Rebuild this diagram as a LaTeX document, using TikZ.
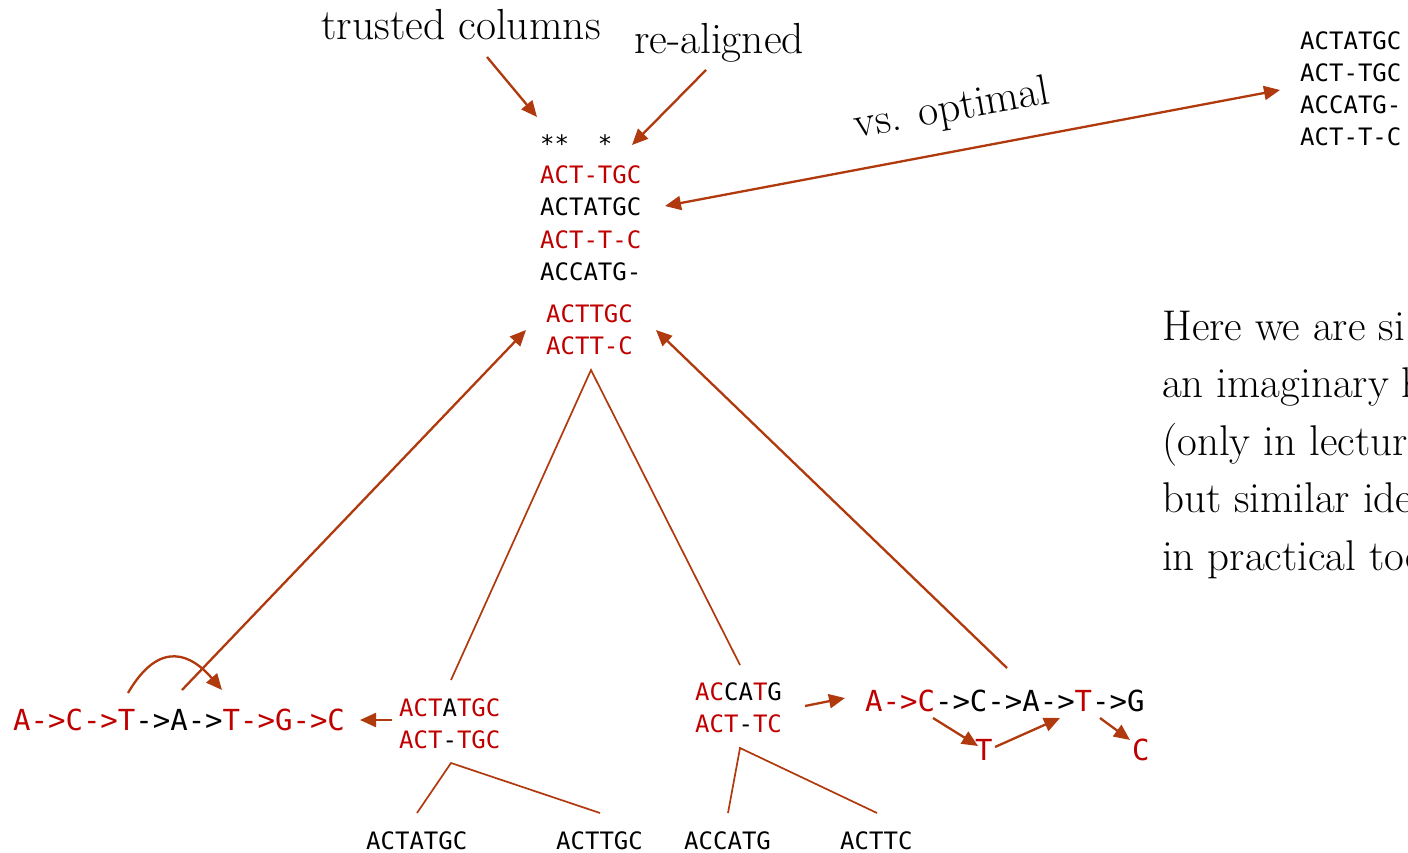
\documentclass[tikz,border=0pt]{standalone}
\usepackage{fontspec}
\newfontfamily\monofont{DejaVu Sans Mono}
\usetikzlibrary{arrows.meta}
\definecolor{arr}{RGB}{176,58,14}
\definecolor{seqred}{RGB}{192,0,0}
\newcommand{\rd}[1]{\textcolor{seqred}{#1}}
\tikzset{
  seq/.style={font=\monofont\fontsize{24}{32}\selectfont, anchor=base west, inner sep=0pt, text=black},
  bigseq/.style={font=\monofont\fontsize{29}{35}\selectfont, anchor=base west, inner sep=0pt, text=black},
  lbl/.style={font=\fontsize{43.5}{50}\selectfont, inner sep=0pt, text=black},
  para/.style={font=\fontsize{43}{50}\selectfont, inner sep=0pt, anchor=base west, text=black},
  arrowline/.style={draw=arr, line width=2.3pt, -{Triangle[length=16pt,width=14pt]}},
  dblarrow/.style={draw=arr, line width=2.3pt, {Triangle[length=16pt,width=14pt]}-{Triangle[length=16pt,width=14pt]}},
  treeline/.style={draw=arr, line width=1.7pt},
}
\begin{document}
\begin{tikzpicture}[x=1pt,y=-1pt]
\useasboundingbox (0,0) rectangle (1408,853);
\clip (0,0) rectangle (1408,853);
\fill[white] (0,0) rectangle (1408,853);

% labels
\node[lbl, anchor=base] (trusted) at (461,40) {trusted columns};
\node[lbl, anchor=base] (realigned) at (719,54) {re-aligned};
\node[lbl, rotate=10] (vsopt) at (952,110) {vs. optimal};

% main alignment
\node[seq] (stars) at (540,153) {**\ \ *};
\node[seq, text=seqred] (r1) at (540,184) {ACT-TGC};
\node[seq] (r2) at (540,216) {ACTATGC};
\node[seq, text=seqred] (r3) at (540,248) {ACT-T-C};
\node[seq] (r4) at (540,280) {ACCATG-};
\node[seq, text=seqred] (p1) at (546,322) {ACTTGC};
\node[seq, text=seqred] (p2) at (546,354) {ACTT-C};

% optimal alignment
\node[seq] (o1) at (1300,50) {ACTATGC};
\node[seq] (o2) at (1300,82) {ACT-TGC};
\node[seq] (o3) at (1300,114) {ACCATG-};
\node[seq] (o4) at (1300,146) {ACT-T-C};

% right paragraph
\node[para] (t1) at (1162,340) {Here we are si};
\node[para] (t2) at (1162,397) {an imaginary h};
\node[para] (t3) at (1162,455) {(only in lectur};
\node[para] (t4) at (1162,512) {but similar ide};
\node[para] (t5) at (1162,570) {in practical too};

% internal nodes
\node[seq] (la1) at (399,716) {\rd{ACT}A\rd{TGC}};
\node[seq] (la2) at (399,748) {\rd{ACT}-\rd{TGC}};
\node[seq] (ra1) at (695,700) {\rd{AC}CA\rd{T}G};
\node[seq] (ra2) at (695,732) {\rd{ACT}-\rd{TC}};

% leaves
\node[seq] (l1) at (366,849) {ACTATGC};
\node[seq] (l2) at (556,849) {ACTTGC};
\node[seq] (l3) at (684,849) {ACCATG};
\node[seq] (l4) at (840,849) {ACTTC};

% graphs
\node[bigseq] (gl) at (13,730.5) {\rd{A->C->T}->A->\rd{T->G->C}};
\node[bigseq] (gr) at (865,711) {\rd{A->C}->C->A->\rd{T}->G};
\node[bigseq, text=seqred] (gT) at (975,760) {T};
\node[bigseq, text=seqred] (gC) at (1132,760) {C};

% coordinates
\coordinate (tcS) at (487,57);   \coordinate (tcE) at (537,117);
\coordinate (raS) at (706,70);   \coordinate (raE) at (632,145);
\coordinate (voA) at (665,206);  \coordinate (voB) at (1280,90);
\coordinate (blS) at (182,690);  \coordinate (blE) at (526,330);
\coordinate (brS) at (1007,668); \coordinate (brE) at (656,330);
\coordinate (top) at (591,370);
\coordinate (tL) at (451,680);   \coordinate (tR) at (740,665);
\coordinate (lTop) at (451,763); \coordinate (lL) at (417,813); \coordinate (lR) at (600,813);
\coordinate (rTop) at (740,748); \coordinate (rL) at (728,813); \coordinate (rR) at (877,813);
\coordinate (sa1) at (392,720);  \coordinate (sa2) at (360,720);
\coordinate (sb1) at (805,706);  \coordinate (sb2) at (845,698);
\coordinate (sc1) at (933,718);  \coordinate (sc2) at (978,746);
\coordinate (sd1) at (995,747);  \coordinate (sd2) at (1060,718);
\coordinate (se1) at (1100,718); \coordinate (se2) at (1130,740);
\coordinate (cv1) at (128,693);  \coordinate (cv2) at (222,690);

% arrows
\draw[arrowline] (tcS) -- (tcE);
\draw[arrowline] (raS) -- (raE);
\draw[dblarrow] (voA) -- (voB);
\draw[arrowline] (blS) -- (blE);
\draw[arrowline] (brS) -- (brE);
\draw[treeline] (tL) -- (top) -- (tR);
\draw[treeline] (lL) -- (lTop) -- (lR);
\draw[treeline] (rL) -- (rTop) -- (rR);
\draw[arrowline] (sa1) -- (sa2);
\draw[arrowline] (sb1) -- (sb2);
\draw[arrowline] (sc1) -- (sc2);
\draw[arrowline] (sd1) -- (sd2);
\draw[arrowline] (se1) -- (se2);
\draw[arrowline] (cv1) .. controls (160,638) and (192,655) .. (cv2);
\end{tikzpicture}
\end{document}
